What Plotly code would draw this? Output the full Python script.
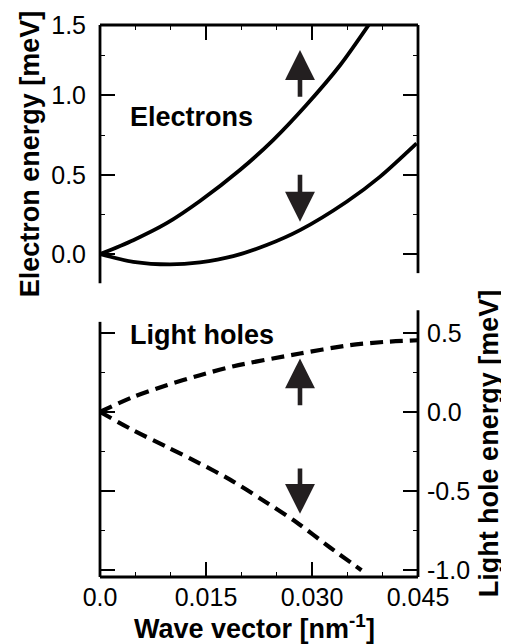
import plotly.graph_objects as go

# ---------------- data ----------------
k_e_up = [0.0, 0.00471, 0.00944, 0.01415, 0.0198, 0.0245, 0.0292, 0.0340, 0.0384]
E_e_up = [0.0, 0.088, 0.195, 0.335, 0.530, 0.719, 0.940, 1.192, 1.469]

k_e_dn = [0.0, 0.00471, 0.0099, 0.01415, 0.01886, 0.02359, 0.0283, 0.0349, 0.0396, 0.0448]
E_e_dn = [0.0, -0.049, -0.065, -0.052, -0.013, 0.057, 0.151, 0.330, 0.487, 0.698]

k_lh_up = [0.0, 0.00471, 0.00944, 0.01415, 0.0189, 0.0283, 0.0354, 0.0401, 0.0450]
E_lh_up = [0.0, 0.095, 0.169, 0.232, 0.289, 0.369, 0.422, 0.442, 0.453]

k_lh_dn = [0.0, 0.00471, 0.00944, 0.01415, 0.0184, 0.0231, 0.0278, 0.0325, 0.0370]
E_lh_dn = [0.0, -0.116, -0.221, -0.326, -0.428, -0.559, -0.697, -0.855, -1.000]

x_tickvals = [0.0, 0.015, 0.030, 0.045]
x_ticktext = ["0.0", "0.015", "0.030", "0.045"]
e_tickvals = [0.0, 0.5, 1.0, 1.444]
e_ticktext = ["0.0", "0.5", "1.0", "1.5"]
lh_tickvals = [-1.0, -0.5, 0.0, 0.5]
lh_ticktext = ["-1.0", "-0.5", "0.0", "0.5"]

# ---------------- styling ----------------
OFF = 8                      # default page (body) margin of the written html
W, H = 509 - OFF, 644 - OFF
L, R, T, B = 100, 418, 25, 576.7   # plot area in window pixels
FONT = "Liberation Sans, Arial, Helvetica, sans-serif"
INK = "#000000"
ARROW = "#231f20"

def px_x(p):
    return (p - L) / (R - L)

def px_y(p):
    return (B - p) / (B - T)

top_dom = [px_y(283), 1.0]
bot_dom = [0.0, px_y(310)]

fig = go.Figure()

line_solid = dict(color=INK, width=3.8, shape="spline", smoothing=0.8)
line_dash = dict(color=INK, width=4.2, dash="13px,7px", shape="spline", smoothing=0.8)

fig.add_trace(go.Scatter(x=k_e_up, y=E_e_up, mode="lines", line=line_solid,
                         xaxis="x2", yaxis="y", showlegend=False, hoverinfo="skip"))
fig.add_trace(go.Scatter(x=k_e_dn, y=E_e_dn, mode="lines", line=line_solid,
                         xaxis="x2", yaxis="y", showlegend=False, hoverinfo="skip"))
fig.add_trace(go.Scatter(x=k_lh_up, y=E_lh_up, mode="lines", line=line_dash,
                         xaxis="x", yaxis="y2", showlegend=False, hoverinfo="skip"))
fig.add_trace(go.Scatter(x=k_lh_dn, y=E_lh_dn, mode="lines", line=line_dash,
                         xaxis="x", yaxis="y2", showlegend=False, hoverinfo="skip"))

tickfont = dict(family=FONT, size=25, color=INK)
titlefont = dict(family=FONT, size=27, color=INK)

common = dict(showgrid=False, zeroline=False, showline=False, ticks="inside",
              tickcolor=INK, tickwidth=1.6, ticklen=15, tickfont=tickfont,
              automargin=False)
minor_x = dict(dtick=0.005, tick0=0, ticks="inside", ticklen=5, tickwidth=1.4, tickcolor=INK)
minor_y = dict(dtick=0.25, tick0=0, ticks="inside", ticklen=5, tickwidth=1.4, tickcolor=INK)

fig.update_layout(
    width=W, height=H,
    margin=dict(l=L - OFF, r=W - (R - OFF), t=T - OFF, b=H - (B - OFF), pad=0, autoexpand=False),
    paper_bgcolor="white", plot_bgcolor="white",
    xaxis=dict(**common, domain=[0, 1], anchor="y2", side="bottom",
               range=[0, 0.045], tickvals=x_tickvals, ticktext=x_ticktext,
               ticklabelstandoff=3, minor=minor_x),
    xaxis2=dict(**common, domain=[0, 1], anchor="y", side="top", matches="x",
                range=[0, 0.045], tickvals=x_tickvals, showticklabels=False,
                minor=minor_x),
    yaxis=dict(**common, domain=top_dom, anchor="x2", side="left", mirror="ticks",
               range=[-0.1829, 1.444], tickvals=e_tickvals, ticktext=e_ticktext,
               ticklabelstandoff=13, minor=minor_y,
               title=dict(text="<b>Electron energy [meV]</b>", font=titlefont, standoff=3)),
    yaxis2=dict(**common, domain=bot_dom, anchor="x", side="right", mirror="ticks",
                range=[-1.043, 0.643], tickvals=lh_tickvals, ticktext=lh_ticktext,
                ticklabelstandoff=8, minor=minor_y,
                title=dict(text="<b>Light hole energy [meV]</b>", font=titlefont, standoff=10)),
)

# x-axis title placed as in the reference
fig.add_annotation(text="<b>Wave vector [nm<sup>-1</sup>]</b>", xref="paper", yref="paper",
                   x=px_x(254), y=px_y(627), xanchor="center", yanchor="middle",
                   showarrow=False, font=titlefont)

# axis frame lines (different lengths as in the reference)
frame = [
    (L, 25, L, 283), (R, 25, R, 273), (L, 25, R, 25),          # top panel
    (L, 321.7, L, B), (R, 310, R, B), (L, B, R, B),             # bottom panel
]
for x0, y0, x1, y1 in frame:
    fig.add_shape(type="line", xref="paper", yref="paper",
                  x0=px_x(x0), y0=px_y(y0), x1=px_x(x1), y1=px_y(y1),
                  line=dict(color=INK, width=2.8), layer="above")

# panel labels
fig.add_annotation(text="<b>Electrons</b>", x=0.01288, y=0.866, xref="x2", yref="y",
                   showarrow=False, font=titlefont, xanchor="center", yanchor="middle")
fig.add_annotation(text="<b>Light holes</b>", x=0.01448, y=0.485, xref="x", yref="y2",
                   showarrow=False, font=titlefont, xanchor="center", yanchor="middle")

# spin arrows
arrows = [
    ("x2", "y", 0.0283, 0.982, 1.286),
    ("x2", "y", 0.0283, 0.509, 0.204),
    ("x", "y2", 0.0283, 0.032, 0.338),
    ("x", "y2", 0.0283, -0.348, -0.644),
]
for xr, yr, xk, y_tail, y_tip in arrows:
    fig.add_annotation(x=xk, y=y_tip, ax=xk, ay=y_tail, xref=xr, yref=yr,
                       axref=xr, ayref=yr, text="", showarrow=True,
                       arrowhead=2, arrowsize=1.3, arrowwidth=4.6, arrowcolor=ARROW,
                       standoff=0, startstandoff=0)

fig.write_html("out.html")
